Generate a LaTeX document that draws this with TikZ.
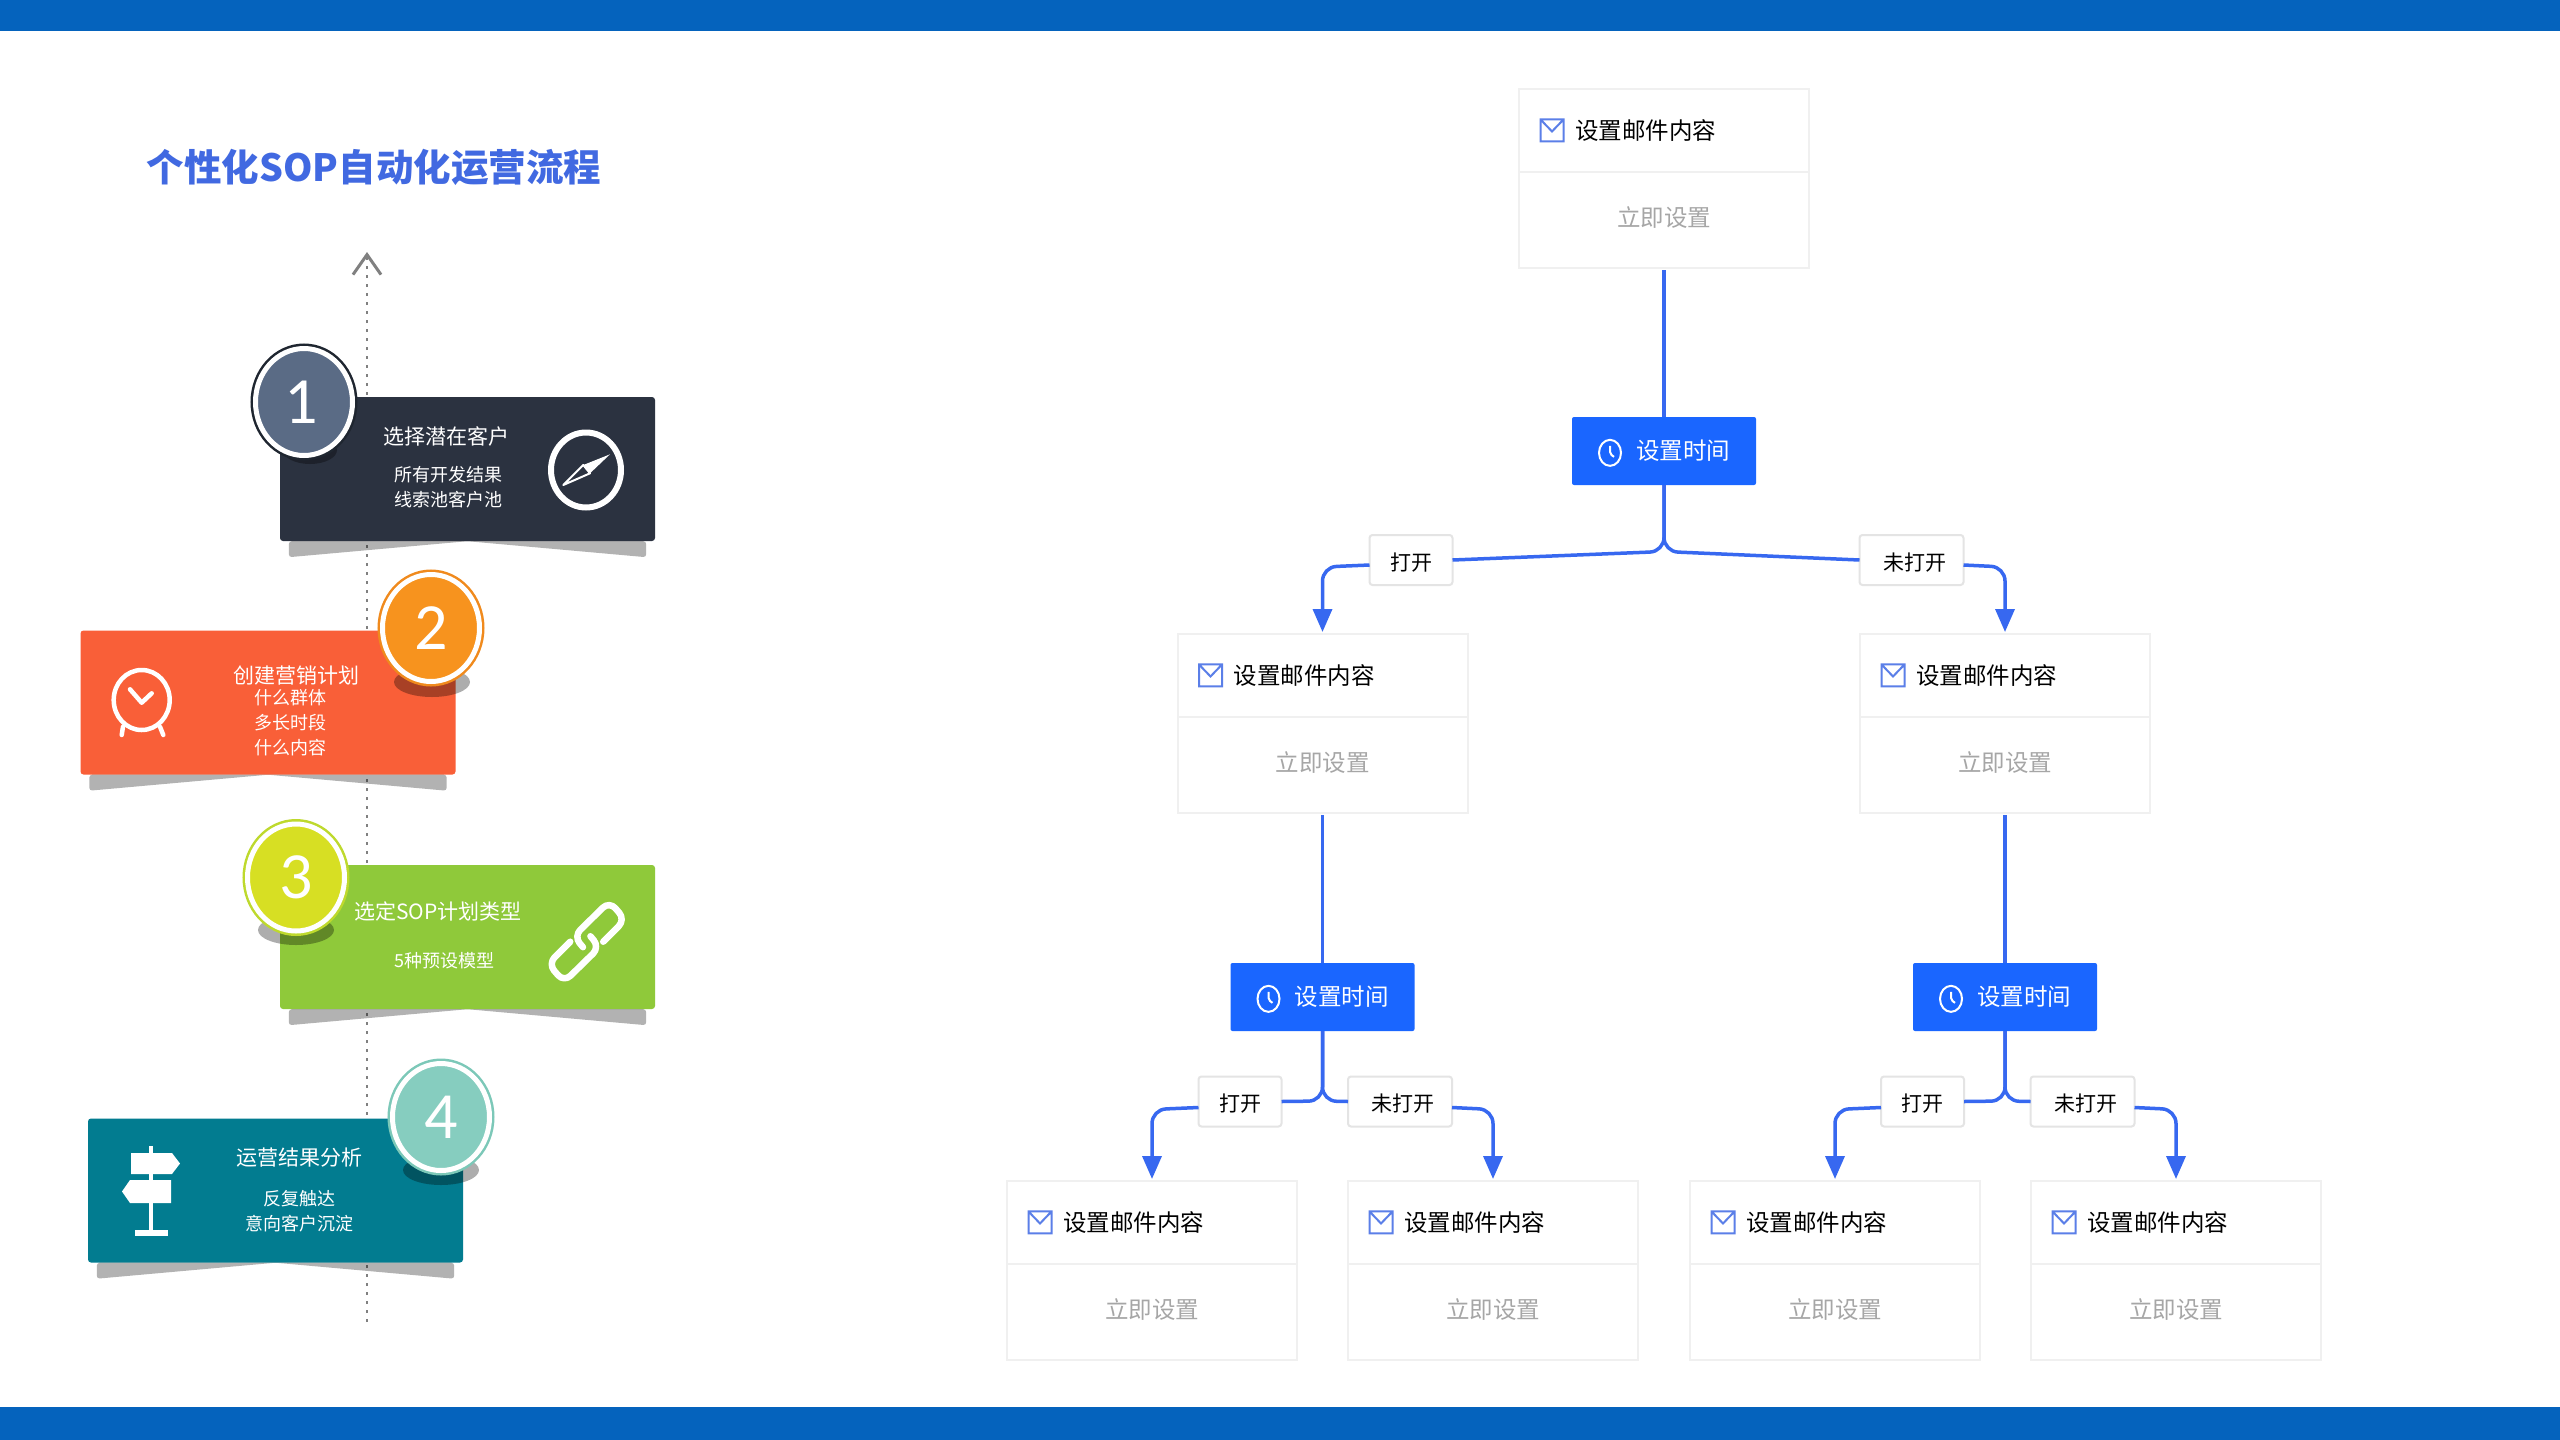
\documentclass[tikz,border=0pt]{standalone}
\usepackage{fontspec}
\setmainfont{Noto Sans CJK SC}
\newfontfamily\digitfont{Carlito}
\usetikzlibrary{positioning,calc,shapes.geometric,arrows.meta}

\definecolor{bandblue}{HTML}{0563BD}
\definecolor{titleblue}{HTML}{4169E1}
\definecolor{flowblue}{HTML}{3768F0}
\definecolor{timeblue}{HTML}{1A66FF}
\definecolor{wireblue}{HTML}{5B7FE8}
\definecolor{boxline}{HTML}{F0F0F0}
\definecolor{chipline}{HTML}{E4E4E4}

\begin{document}
\begin{tikzpicture}[x=1pt,y=-1pt]
	\tikzstyle{card} = [rectangle,rounded corners=3pt,minimum width=375pt,minimum height=144pt]
	\tikzstyle{cardshadow} = [fill=black,opacity=0.3,rounded corners=3pt]
	\tikzstyle{badge} = [ellipse,draw=white,line width=5pt,minimum width=97pt,minimum height=107pt,text=white,font=\digitfont\fontsize{66}{66}\selectfont]
	\tikzstyle{badgeshadow} = [fill=black,opacity=0.32]
	\tikzstyle{cardhead} = [text=white,inner sep=0pt,font=\fontsize{21}{25}\selectfont]
	\tikzstyle{cardsub} = [text=white,inner sep=0pt,align=center,font=\fontsize{18}{25}\selectfont]
	\tikzstyle{iconline} = [draw=white,line width=6pt,line cap=round,line join=round]
	\tikzstyle{mailhead} = [rectangle,draw=boxline,line width=2pt,outer sep=0pt,minimum width=290pt,minimum height=83pt,
		text width=290pt,inner xsep=0pt,align=left,execute at begin node=\hspace*{56pt},font=\fontsize{23.5}{28}\selectfont,
		path picture={\draw[wireblue,line width=2pt,shift={(path picture bounding box.west)}]
			(21.5,-20) rectangle (44.5,2) (21.5,-20) -- (33,-8) -- (44.5,-20);}]
	\tikzstyle{mailaction} = [rectangle,draw=boxline,line width=2pt,outer sep=0pt,minimum width=290pt,minimum height=96pt,
		text depth=7pt,text=black!35,font=\fontsize{23.5}{28}\selectfont]
	\tikzstyle{timebox} = [rectangle,fill=timeblue,rounded corners=2pt,outer sep=0pt,minimum width=184pt,minimum height=68pt,
		text width=184pt,inner xsep=0pt,align=left,execute at begin node=\hspace*{64pt},text=white,font=\fontsize{23.5}{28}\selectfont,
		path picture={\draw[white,line width=2pt,shift={(path picture bounding box.west)}]
			(38,-7) ellipse [x radius=11,y radius=13] (38,-14) -- (38,-6) -- (42,-3);}]
	\tikzstyle{chip} = [rectangle,draw=chipline,fill=white,line width=2pt,rounded corners=3pt,outer sep=0pt,minimum height=50pt,
		text height=22pt,text depth=2pt,font=\fontsize{21}{25}\selectfont]
	\tikzstyle{flow} = [draw=flowblue,line width=3.5pt,rounded corners=14pt]
	\tikzstyle{flowarrow} = [flow,-{Triangle[length=23pt,width=19pt]},shorten >=2pt]

	\fill[white] (0,0) rectangle (2560,1440);
	\useasboundingbox (0,0) rectangle (2560,1440);
	\fill[bandblue] (0,0) rectangle (2560,31);
	\fill[bandblue] (0,1407) rectangle (2560,1440);

	\node[text=titleblue,inner sep=0pt,font=\bfseries\fontsize{37.5}{44}\selectfont] (title) at (374,167) {个性化SOP自动化运营流程};

	% time line behind the cards
	\coordinate (axisbot) at (367,1322);
	\coordinate (axistop) at (367,252);
	\draw[black!50,line width=2.5pt,dash pattern=on 3pt off 6pt,-{Straight Barb[length=20pt,width=28pt,line width=3pt]}] (axisbot) -- (axistop);

	\node[card,fill={rgb,255:red,43;green,50;blue,64}] (card1) at (467.5,469) {};
	\node[card,fill={rgb,255:red,249;green,95;blue,56}] (card2) at (268,702.5) {};
	\node[card,fill={rgb,255:red,143;green,201;blue,58}] (card3) at (467.5,937) {};
	\node[card,fill={rgb,255:red,2;green,124;blue,144}] (card4) at (275.5,1190.5) {};

	\foreach \c in {card1,card2,card3,card4}
		\fill[cardshadow] ($(\c.south west)+(9,0)$) -- ($(\c.south west)+(9,16)$) -- (\c.south) -- ($(\c.south east)+(-9,16)$) -- ($(\c.south east)+(-9,0)$) -- cycle;

	\fill[badgeshadow] (310,450) ellipse [x radius=27,y radius=14];
	\fill[badgeshadow] (432,682) ellipse [x radius=38,y radius=15];
	\fill[badgeshadow] (296,930) ellipse [x radius=38,y radius=15];
	\fill[badgeshadow] (441,1170) ellipse [x radius=38,y radius=15];

	\node[badge,fill={rgb,255:red,90;green,107;blue,133},preaction={draw={rgb,255:red,31;green,38;blue,48},line width=10pt}] (badge1) at (304,402) {\hspace{-5pt}1};
	\node[badge,fill={rgb,255:red,247;green,147;blue,30},preaction={draw={rgb,255:red,240;green,138;blue,29},line width=10pt}] (badge2) at (431,628) {2};
	\node[badge,fill={rgb,255:red,215;green,223;blue,35},preaction={draw={rgb,255:red,190;green,217;blue,45},line width=10pt}] (badge3) at (296,877.5) {3};
	\node[badge,fill={rgb,255:red,134;green,205;blue,191},preaction={draw={rgb,255:red,124;green,200;blue,184},line width=10pt}] (badge4) at (441,1117) {4};

	\node[cardhead] (card1h) at (446.5,436) {选择潜在客户};
	\node[cardsub] (card1s) at (448,487.5) {所有开发结果\\线索池客户池};
	\node[cardhead] (card2h) at (296,676) {创建营销计划};
	\node[cardsub] (card2s) at (290,723) {什么群体\\多长时段\\什么内容};
	\node[cardhead] (card3h) at (438,911) {选定SOP计划类型};
	\node[cardsub] (card3s) at (444.5,961) {5种预设模型};
	\node[cardhead] (card4h) at (299,1158) {运营结果分析};
	\node[cardsub] (card4s) at (299,1211) {反复触达\\意向客户沉淀};

	% compass
	\draw[iconline] (586,470) ellipse [x radius=35,y radius=37.5];
	\fill[white] (610,454.3) -- (583.3,465) -- (590,473.3) -- cycle;
	\draw[white,line width=2pt,line join=round] (563.3,485) -- (583.3,465) -- (590,473.3) -- cycle;

	% alarm clock
	\draw[iconline,line width=4.5pt] (141.7,700) ellipse [x radius=28,y radius=30];
	\draw[iconline,line width=4.5pt] (130,689.3) -- (141.7,702.7) -- (151.7,693.3);
	\draw[iconline,line width=4.5pt] (123,726.7) -- (121.7,735);
	\draw[iconline,line width=4.5pt] (160,726.7) -- (163.3,735);

	% chain links
	\draw[iconline,line width=6.5pt,rounded corners=9pt] (603.2,941.7) -- (625.2,919.7) -- (609.4,901.3) -- (573.8,936.2) -- (583,947.2);
	\draw[iconline,line width=6.5pt,rounded corners=9pt] (570.2,941.7) -- (548.2,963.7) -- (564,982.1) -- (599.6,947.2) -- (590.4,936.2);

	% signpost
	\fill[white] (148.5,1146) rectangle (153,1232);
	\fill[white] (135,1230) rectangle (168,1236);
	\fill[white] (131,1153) -- (172,1153) -- (180,1163.5) -- (172,1174) -- (131,1174) -- cycle;
	\fill[white] (171,1180) -- (130,1180) -- (122,1191.5) -- (130,1203) -- (171,1203) -- cycle;

	% tree on the right
	\node[mailhead] (mail1h) at (1664,130.5) {设置邮件内容};
	\node[mailaction,below=0pt of mail1h] (mail1a) {立即设置};
	\node[timebox] (time1) at (1664,451) {设置时间};
	\node[chip,minimum width=83pt] (open1) at (1411,560) {打开};
	\node[chip,minimum width=104pt] (closed1) at (1911.5,560) {\hspace{6pt}未打开};

	\node[mailhead] (mail2h) at (1322.5,675.5) {设置邮件内容};
	\node[mailaction,below=0pt of mail2h] (mail2a) {立即设置};
	\node[mailhead] (mail3h) at (2005,675.5) {设置邮件内容};
	\node[mailaction,below=0pt of mail3h] (mail3a) {立即设置};

	\node[timebox] (time2) at (1322.5,997) {设置时间};
	\node[timebox] (time3) at (2005,997) {设置时间};

	\node[chip,minimum width=83pt] (open2) at (1240,1101.5) {打开};
	\node[chip,minimum width=104pt] (closed2) at (1400,1101.5) {\hspace{6pt}未打开};
	\node[chip,minimum width=83pt] (open3) at (1922.5,1101.5) {打开};
	\node[chip,minimum width=104pt] (closed3) at (2082.5,1101.5) {\hspace{6pt}未打开};

	\node[mailhead] (mail4h) at (1152,1222.5) {设置邮件内容};
	\node[mailaction,below=0pt of mail4h] (mail4a) {立即设置};
	\node[mailhead] (mail5h) at (1493,1222.5) {设置邮件内容};
	\node[mailaction,below=0pt of mail5h] (mail5a) {立即设置};
	\node[mailhead] (mail6h) at (1835,1222.5) {设置邮件内容};
	\node[mailaction,below=0pt of mail6h] (mail6a) {立即设置};
	\node[mailhead] (mail7h) at (2176,1222.5) {设置邮件内容};
	\node[mailaction,below=0pt of mail7h] (mail7a) {立即设置};

	\draw[flow,shorten <=2pt] (mail1a.south) -- (time1.north);
	\draw[flow,shorten <=2pt] (mail2a.south) -- (time2.north);
	\draw[flow,shorten <=2pt] (mail3a.south) -- (time3.north);

	\draw[flow] (time1.south) -- ++(0,66.5) -- (open1.east);
	\draw[flow] (time1.south) -- ++(0,66.5) -- (closed1.west);
	\draw[flowarrow] ($(open1.west)+(0,5)$) -- ($(mail2h.north |- open1.west)+(0,7)$) -- (mail2h.north);
	\draw[flowarrow] ($(closed1.east)+(0,5)$) -- ($(mail3h.north |- closed1.east)+(0,7)$) -- (mail3h.north);

	\draw[flow] (time2.south) -- ++(0,70) -- (open2.east);
	\draw[flow] (time2.south) -- ++(0,70) -- (closed2.west);
	\draw[flowarrow] ($(open2.west)+(0,6)$) -- ($(mail4h.north |- open2.west)+(0,8)$) -- (mail4h.north);
	\draw[flowarrow] ($(closed2.east)+(0,6)$) -- ($(mail5h.north |- closed2.east)+(0,8)$) -- (mail5h.north);

	\draw[flow] (time3.south) -- ++(0,70) -- (open3.east);
	\draw[flow] (time3.south) -- ++(0,70) -- (closed3.west);
	\draw[flowarrow] ($(open3.west)+(0,6)$) -- ($(mail6h.north |- open3.west)+(0,8)$) -- (mail6h.north);
	\draw[flowarrow] ($(closed3.east)+(0,6)$) -- ($(mail7h.north |- closed3.east)+(0,8)$) -- (mail7h.north);
\end{tikzpicture}
\end{document}
